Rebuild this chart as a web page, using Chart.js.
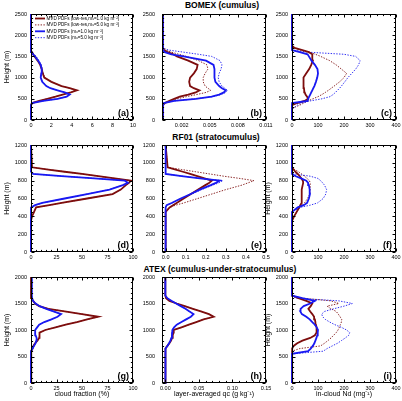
<!DOCTYPE html>
<html>
<head>
<meta charset="utf-8">
<script src="https://cdn.jsdelivr.net/npm/chart.js@4.4.1/dist/chart.umd.min.js"></script>
<style>
  body { margin: 0; background: #fff; }
  #wrap { position: relative; width: 402px; height: 401px; overflow: hidden; background: #fff; }
  #wrap canvas { position: absolute; left: 0; top: 0; }
  .ttl { position: absolute; font: bold 8.5px "Liberation Sans", Arial, sans-serif; white-space: nowrap; transform: translate(-50%, -50%); color: #000; }
</style>
</head>
<body>
<div id="wrap">
  <div class="ttl" style="left:222px; top:5px;">BOMEX (cumulus)</div>
  <div class="ttl" style="left:216px; top:137px;">RF01 (stratocumulus)</div>
  <div class="ttl" style="left:220px; top:269px;">ATEX (cumulus-under-stratocumulus)</div>
</div>
<script>
// ---- data: heights (m) and the four MVD PDF profiles per case ----
const seriesLabels = [
  'MVD PDFs (low-res,mᵤ=1.0 kg m⁻²)',
  'MVD PDFs (low-res,mᵤ=5.0 kg m⁻²)',
  'MVD PDFs (mᵤ=1.0 kg m⁻²)',
  'MVD PDFs (mᵤ=5.0 kg m⁻²)'
];

// BOMEX
const bomexHeight = [0, 250, 300, 350, 400, 450, 500, 550, 600, 650, 700, 750, 800, 900, 1000, 1100, 1200, 1300, 1400, 1500, 1550, 1600, 1650, 1700, 1750, 2500];
const bomexCfLow1 = [0, 0, 0, 0, 0.1, 0.8, 1.6, 2.4, 3.1, 3.9, 4.5, 3.8, 3.0, 2.0, 1.3, 1.15, 1.05, 0.9, 0.65, 0.35, 0.2, 0.08, 0, 0, 0, 0];
const bomexCfLow5 = [0, 0, 0, 0, 0.1, 0.8, 1.6, 2.4, 3.1, 3.9, 4.4, 3.8, 3.0, 2.0, 1.35, 1.2, 1.1, 0.95, 0.7, 0.4, 0.25, 0.1, 0.02, 0, 0, 0];
const bomexCfHi1 = [0, 0, 0, 0, 0.1, 1.2, 2.6, 3.5, 3.8, 3.3, 2.6, 1.9, 1.5, 1.1, 0.95, 1.0, 1.05, 0.95, 0.7, 0.4, 0.2, 0.05, 0, 0, 0, 0];
const bomexCfHi5 = [0, 0, 0, 0, 0.1, 1.2, 2.6, 3.5, 3.8, 3.3, 2.6, 1.9, 1.5, 1.15, 1.0, 1.05, 1.1, 1.0, 0.8, 0.5, 0.3, 0.15, 0.03, 0, 0, 0];
const bomexQcLow1 = [0, 0, 0, 0, 0.0002, 0.0007, 0.0012, 0.0018, 0.0027, 0.0035, 0.0039, 0.0033, 0.0029, 0.0028, 0.0029, 0.0033, 0.0036, 0.0037, 0.0027, 0.0015, 0.0011, 0.0005, 0.0001, 0, 0, 0];
const bomexQcLow5 = [0, 0, 0, 0, 0.0002, 0.0008, 0.0015, 0.0025, 0.0036, 0.0046, 0.0051, 0.0048, 0.0045, 0.0043, 0.0043, 0.0045, 0.0048, 0.0047, 0.0038, 0.0025, 0.0017, 0.0009, 0.0003, 0, 0, 0];
const bomexQcHi1 = [0, 0, 0, 0, 0.0001, 0.0012, 0.0035, 0.0052, 0.006, 0.0065, 0.0067, 0.0063, 0.006, 0.0056, 0.0055, 0.0055, 0.0055, 0.0054, 0.0046, 0.0022, 0.0009, 0.0002, 0, 0, 0, 0];
const bomexQcHi5 = [0, 0, 0, 0, 0.0001, 0.0012, 0.0035, 0.0053, 0.0062, 0.0067, 0.0069, 0.0066, 0.0063, 0.006, 0.0059, 0.006, 0.0062, 0.0063, 0.0061, 0.0052, 0.0038, 0.0022, 0.0006, 0, 0, 0];
const bomexNdLow1 = [0, 0, 0, 0, 20, 48, 62, 58, 52, 49, 47, 46, 45, 43, 45, 55, 66, 74, 80, 79, 77, 65, 40, 10, 0, 0];
const bomexNdLow5 = [0, 0, 10, 30, 45, 62, 80, 100, 115, 128, 140, 151, 162, 183, 200, 210, 190, 170, 145, 110, 90, 65, 35, 8, 0, 0];
const bomexNdHi1 = [0, 0, 0, 0, 0, 60, 62, 66, 70, 74, 78, 82, 86, 92, 97, 100, 98, 88, 75, 65, 60, 30, 0, 0, 0, 0];
const bomexNdHi5 = [0, 0, 10, 20, 35, 70, 115, 146, 158, 167, 175, 183, 190, 203, 215, 230, 245, 256, 262, 245, 200, 60, 0, 0, 0, 0];

// RF01
const rf01Height = [0, 350, 400, 450, 500, 525, 550, 600, 650, 700, 750, 775, 800, 825, 850, 875, 900, 925, 950, 1200];
const rf01CfLow1 = [0, 0, 1, 3, 5, 18, 30, 55, 80, 88, 93, 96, 98, 82, 66, 50, 33, 17, 1, 0];
const rf01CfLow5 = [0, 0, 1, 3, 5, 18, 30, 55, 80, 88, 93, 96, 98, 82, 66, 50, 33, 17, 1, 0];
const rf01CfHi1 = [0, 0, 0, 0, 0, 4, 11, 33, 55, 77, 90, 95, 92, 62, 30, 2, 0, 0, 0, 0];
const rf01CfHi5 = [0, 0, 0, 0, 0, 4, 11, 33, 55, 77, 90, 95, 93, 63, 31, 2, 0, 0, 0, 0];
const rf01QcLow1 = [0, 0, 0, 0, 0.02, 0.037, 0.055, 0.09, 0.126, 0.162, 0.198, 0.216, 0.23, 0.194, 0.158, 0.122, 0.086, 0.05, 0.01, 0];
const rf01QcLow5 = [0, 0, 0, 0, 0.02, 0.05, 0.09, 0.16, 0.23, 0.30, 0.38, 0.41, 0.44, 0.37, 0.29, 0.22, 0.15, 0.08, 0.01, 0];
const rf01QcHi1 = [0, 0, 0, 0, 0, 0.005, 0.03, 0.075, 0.125, 0.17, 0.225, 0.25, 0.27, 0.17, 0.08, 0, 0, 0, 0, 0];
const rf01QcHi5 = [0, 0, 0, 0, 0, 0.005, 0.032, 0.08, 0.13, 0.18, 0.235, 0.265, 0.285, 0.18, 0.085, 0, 0, 0, 0, 0];
const rf01NdLow1 = [0, 0, 8, 18, 28, 32, 37, 37, 37, 38, 41, 43, 42, 36, 30, 22, 13, 6, 0, 0];
const rf01NdLow5 = [0, 0, 8, 18, 30, 40, 48, 60, 68, 70, 70, 70, 67, 58, 48, 37, 25, 10, 0, 0];
const rf01NdHi1 = [0, 0, 0, 0, 22, 45, 58, 65, 69, 68, 65, 62, 55, 35, 15, 0, 0, 0, 0, 0];
const rf01NdHi5 = [0, 0, 0, 0, 30, 70, 98, 120, 130, 133, 125, 118, 110, 100, 70, 10, 0, 0, 0, 0];

// ATEX
const atexHeight = [0, 550, 600, 650, 700, 750, 800, 850, 900, 950, 1000, 1050, 1100, 1150, 1200, 1250, 1300, 1350, 1400, 1450, 1500, 1550, 1600, 1650, 1700, 2000];
const atexCfLow1 = [0, 0, 0.5, 1.5, 2.3, 4, 6.3, 8, 8.2, 8.5, 14, 24, 34, 45, 55, 66, 50, 33, 17, 8, 4, 2, 0.5, 0, 0, 0];
const atexCfLow5 = [0, 0, 0.5, 1.5, 2.3, 4, 6.3, 8, 8.2, 8.5, 14, 24, 34, 45, 55, 66, 50, 33, 17, 8, 4, 2, 0.5, 0, 0, 0];
const atexCfHi1 = [0, 0, 0, 1.5, 3, 4.5, 5.2, 5.5, 4.5, 4, 4.2, 6, 8, 13, 20, 26, 29.5, 22, 15, 8.5, 4.5, 2, 1, 0.8, 0.8, 0.8];
const atexCfHi5 = [0, 0, 0, 1.5, 3, 4.5, 5.2, 5.5, 4.5, 4, 4.2, 6, 8, 13, 20, 26, 29.5, 22, 15, 8.5, 4.5, 2, 1, 0.8, 0.8, 0.8];
const atexQcLow1 = [0, 0, 0, 0.0005, 0.003, 0.006, 0.0085, 0.01, 0.011, 0.012, 0.0125, 0.024, 0.035, 0.046, 0.057, 0.072, 0.065, 0.053, 0.041, 0.029, 0.017, 0.006, 0.001, 0, 0, 0];
const atexQcLow5 = [0, 0, 0, 0.0005, 0.003, 0.006, 0.0085, 0.01, 0.011, 0.012, 0.0125, 0.024, 0.035, 0.046, 0.057, 0.072, 0.065, 0.053, 0.041, 0.029, 0.017, 0.006, 0.001, 0, 0, 0];
const atexQcHi1 = [0, 0, 0, 0.0005, 0.003, 0.0055, 0.0075, 0.009, 0.0098, 0.01, 0.0105, 0.013, 0.017, 0.024, 0.031, 0.038, 0.042, 0.036, 0.03, 0.023, 0.016, 0.009, 0.003, 0, 0, 0];
const atexQcHi5 = [0, 0, 0, 0.0005, 0.003, 0.0055, 0.0075, 0.009, 0.0098, 0.01, 0.0105, 0.013, 0.017, 0.024, 0.031, 0.038, 0.042, 0.036, 0.03, 0.023, 0.016, 0.009, 0.003, 0, 0, 0];
const atexNdLow1 = [0, 0, 0, 2, 6, 20, 40, 70, 88, 94, 95, 94, 92, 90, 88, 85, 78, 70, 63, 72, 78, 55, 25, 2, 0, 0];
const atexNdLow5 = [0, 0, 0, 30, 110, 125, 138, 150, 160, 170, 177, 182, 186, 190, 191, 185, 178, 170, 150, 135, 180, 150, 40, 0, 0, 0];
const atexNdHi1 = [0, 0, 62, 72, 80, 86, 90, 94, 97, 99, 100, 95, 88, 78, 68, 55, 38, 32, 33, 45, 70, 88, 40, 0, 0, 0];
const atexNdHi5 = [0, 0, 120, 135, 155, 175, 190, 205, 218, 222, 210, 190, 165, 145, 128, 118, 114, 125, 160, 200, 232, 180, 15, 0, 0, 0];

// tick labels
const bomexHeightTicks = ['0', '500', '1000', '1500', '2000', '2500'];
const rf01HeightTicks = ['0', '200', '400', '600', '800', '1000', '1200'];
const atexHeightTicks = ['0', '500', '1000', '1500', '2000'];
const cfTicksBomex = ['0', '2', '4', '6', '8', '10'];
const qcTicksBomex = ['0.002', '0.005', '0.008', '0.011'];
const cfTicks = ['0', '25', '50', '75', '100'];
const qcTicksRf01 = ['0.0', '0.1', '0.2', '0.3', '0.4', '0.5'];
const qcTicksAtex = ['0.00', '0.05', '0.10', '0.15'];
const ndTicks = ['0', '100', '200', '300', '400'];

// ---- layout / style ----
const PAGE_W = 402, PAGE_H = 401;
const colBox = [[31, 133], [162, 266], [292, 396]];
const rowBox = [[14, 120], [145, 252], [277, 383]];
const yLabelPad = [4, 7, 4];
const FONT = '"Liberation Sans", Arial, sans-serif';
const RED = '#7d0d0d', BLUE = '#1818f2';
const lineStyles = [
  { color: RED, width: 1.8, dash: [], order: 1 },
  { color: RED, width: 0.9, dash: [1.4, 1.4], order: 3 },
  { color: BLUE, width: 1.8, dash: [], order: 0 },
  { color: BLUE, width: 0.9, dash: [1.4, 1.4], order: 2 }
];

const panels = [
  { letter: 'a', col: 0, row: 0, h: bomexHeight, series: [bomexCfLow1, bomexCfLow5, bomexCfHi1, bomexCfHi5], xMin: 0, xMax: 10, xTicks: cfTicksBomex, xMinor: 0.5, yMax: 2500, yTicks: bomexHeightTicks, yMinor: 100, yTitle: true, legend: true },
  { letter: 'b', col: 1, row: 0, h: bomexHeight, series: [bomexQcLow1, bomexQcLow5, bomexQcHi1, bomexQcHi5], xMin: -0.0001, xMax: 0.011, xTicks: qcTicksBomex, xMinor: 0.001, yMax: 2500, yTicks: bomexHeightTicks, yMinor: 100 },
  { letter: 'c', col: 2, row: 0, h: bomexHeight, series: [bomexNdLow1, bomexNdLow5, bomexNdHi1, bomexNdHi5], xMin: 0, xMax: 400, xTicks: ndTicks, xMinor: 25, yMax: 2500, yTicks: bomexHeightTicks, yMinor: 100 },
  { letter: 'd', col: 0, row: 1, h: rf01Height, series: [rf01CfLow1, rf01CfLow5, rf01CfHi1, rf01CfHi5], xMin: 0, xMax: 100, xTicks: cfTicks, xMinor: 5, yMax: 1200, yTicks: rf01HeightTicks, yMinor: 50, yTitle: true },
  { letter: 'e', col: 1, row: 1, h: rf01Height, series: [rf01QcLow1, rf01QcLow5, rf01QcHi1, rf01QcHi5], xMin: -0.018, xMax: 0.5, xTicks: qcTicksRf01, xMinor: 0.05, yMax: 1200, yTicks: rf01HeightTicks, yMinor: 50 },
  { letter: 'f', col: 2, row: 1, h: rf01Height, series: [rf01NdLow1, rf01NdLow5, rf01NdHi1, rf01NdHi5], xMin: 0, xMax: 400, xTicks: ndTicks, xMinor: 25, yMax: 1200, yTicks: rf01HeightTicks, yMinor: 50, yTitle: true },
  { letter: 'g', col: 0, row: 2, h: atexHeight, series: [atexCfLow1, atexCfLow5, atexCfHi1, atexCfHi5], xMin: 0, xMax: 100, xTicks: cfTicks, xMinor: 5, yMax: 2000, yTicks: atexHeightTicks, yMinor: 100, yTitle: true, xTitle: 'cloud fraction (%)' },
  { letter: 'h', col: 1, row: 2, h: atexHeight, series: [atexQcLow1, atexQcLow5, atexQcHi1, atexQcHi5], xMin: -0.005, xMax: 0.15, xTicks: qcTicksAtex, xMinor: 0.01, yMax: 2000, yTicks: atexHeightTicks, yMinor: 100, xTitle: 'layer-averaged qc (g kg⁻¹)' },
  { letter: 'i', col: 2, row: 2, h: atexHeight, series: [atexNdLow1, atexNdLow5, atexNdHi1, atexNdHi5], xMin: 0, xMax: 400, xTicks: ndTicks, xMinor: 25, yMax: 2000, yTicks: atexHeightTicks, yMinor: 100, yTitle: true, xTitle: 'in-cloud Nd (mg⁻¹)' }
];

// frame with inward ticks on all sides, panel letter, and the in-panel legend
function decoPlugin(p) {
  return {
    id: 'deco' + p.letter,
    afterDatasetsDraw(chart) {
      const { ctx, chartArea: a, scales: { x, y } } = chart;
      ctx.save();
      ctx.setLineDash([]);
      ctx.strokeStyle = '#000';
      ctx.lineWidth = 1;
      const l = Math.round(a.left) + 0.5, r = Math.round(a.right) - 0.5;
      const t = Math.round(a.top) + 0.5, b = Math.round(a.bottom) - 0.5;
      ctx.strokeRect(l, t, r - l, b - t);
      ctx.beginPath();
      const mark = (scale, step, majors, horiz) => {
        const first = Math.ceil((scale.min - 1e-9) / step);
        for (let k = first; k * step <= scale.max + 1e-9; k++) {
          const v = k * step;
          const major = majors.some(m => Math.abs(m - v) < step * 0.01);
          const len = major ? 3 : 1.6;
          const px = Math.round(scale.getPixelForValue(v)) + 0.5;
          if (horiz) {
            ctx.moveTo(px, b); ctx.lineTo(px, b - len);
            ctx.moveTo(px, t); ctx.lineTo(px, t + len);
          } else {
            ctx.moveTo(l, px); ctx.lineTo(l + len, px);
            ctx.moveTo(r, px); ctx.lineTo(r - len, px);
          }
        }
      };
      mark(x, p.xMinor, p.xTicks.map(Number), true);
      mark(y, p.yMinor, p.yTicks.map(Number), false);
      ctx.stroke();

      ctx.fillStyle = '#000';
      ctx.font = 'bold 9px ' + FONT;
      ctx.textAlign = 'right';
      ctx.textBaseline = 'alphabetic';
      ctx.fillText('(' + p.letter + ')', a.right - 4, a.bottom - 4);

      if (p.legend) {
        ctx.font = '4.6px ' + FONT;
        ctx.textAlign = 'left';
        ctx.textBaseline = 'middle';
        chart.data.datasets.forEach((ds, i) => {
          const yy = a.top + 4.5 + i * 6.4;
          ctx.strokeStyle = ds.borderColor;
          ctx.lineWidth = ds.borderWidth;
          ctx.setLineDash(ds.borderDash);
          ctx.beginPath();
          ctx.moveTo(a.left + 4, yy);
          ctx.lineTo(a.left + 14, yy);
          ctx.stroke();
          ctx.fillText(ds.label, a.left + 15.5, yy);
        });
      }
      ctx.restore();
    }
  };
}

const wrap = document.getElementById('wrap');

function makePanel(p) {
  const [L, R] = colBox[p.col];
  const [T, B] = rowBox[p.row];
  const yw = 30;
  const xh = p.xTitle ? 18 : 10;
  const canvas = document.createElement('canvas');
  canvas.width = PAGE_W;
  canvas.height = PAGE_H;
  wrap.appendChild(canvas);

  new Chart(canvas.getContext('2d'), {
    type: 'line',
    data: {
      datasets: p.series.map((vals, i) => ({
        label: seriesLabels[i],
        data: vals.map((v, k) => ({ x: v, y: p.h[k] })),
        borderColor: lineStyles[i].color,
        borderWidth: lineStyles[i].width,
        borderDash: lineStyles[i].dash,
        order: lineStyles[i].order,
        pointRadius: 0,
        tension: 0,
        fill: false,
        clip: false
      }))
    },
    options: {
      responsive: false,
      animation: false,
      devicePixelRatio: 1,
      events: [],
      layout: { padding: { left: L - yw, top: T, right: PAGE_W - R, bottom: PAGE_H - B - xh } },
      plugins: { legend: { display: false }, tooltip: { enabled: false } },
      scales: {
        x: {
          type: 'linear',
          min: p.xMin,
          max: p.xMax,
          grid: { display: false, drawTicks: false, tickLength: 0 },
          border: { display: false },
          afterBuildTicks: s => { s.ticks = p.xTicks.map(t => ({ value: Number(t) })); },
          afterFit: s => { s.height = xh; s.paddingLeft = 0; s.paddingRight = 0; },
          ticks: {
            autoSkip: false, maxRotation: 0, minRotation: 0, padding: 2.5,
            color: '#000', font: { family: FONT, size: 5.5 },
            callback: (v, i) => p.xTicks[i]
          },
          title: {
            display: !!p.xTitle, text: p.xTitle || '', color: '#000',
            font: { family: FONT, size: 7 }, padding: { top: 0, bottom: 2.5 }
          }
        },
        y: {
          type: 'linear',
          min: 0,
          max: p.yMax,
          grid: { display: false, drawTicks: false, tickLength: 0 },
          border: { display: false },
          afterBuildTicks: s => { s.ticks = p.yTicks.map(t => ({ value: Number(t) })); },
          afterFit: s => { s.width = yw; s.paddingTop = 0; s.paddingBottom = 0; },
          ticks: {
            autoSkip: false, padding: yLabelPad[p.col],
            color: '#000', font: { family: FONT, size: 5.5 },
            callback: (v, i) => p.yTicks[i]
          },
          title: {
            display: !!p.yTitle, text: 'Height (m)', color: '#000',
            font: { family: FONT, size: 7 }, padding: { top: 2.3, bottom: 0 }
          }
        }
      }
    },
    plugins: [decoPlugin(p)]
  });
}

panels.forEach(makePanel);
</script>
</body>
</html>
